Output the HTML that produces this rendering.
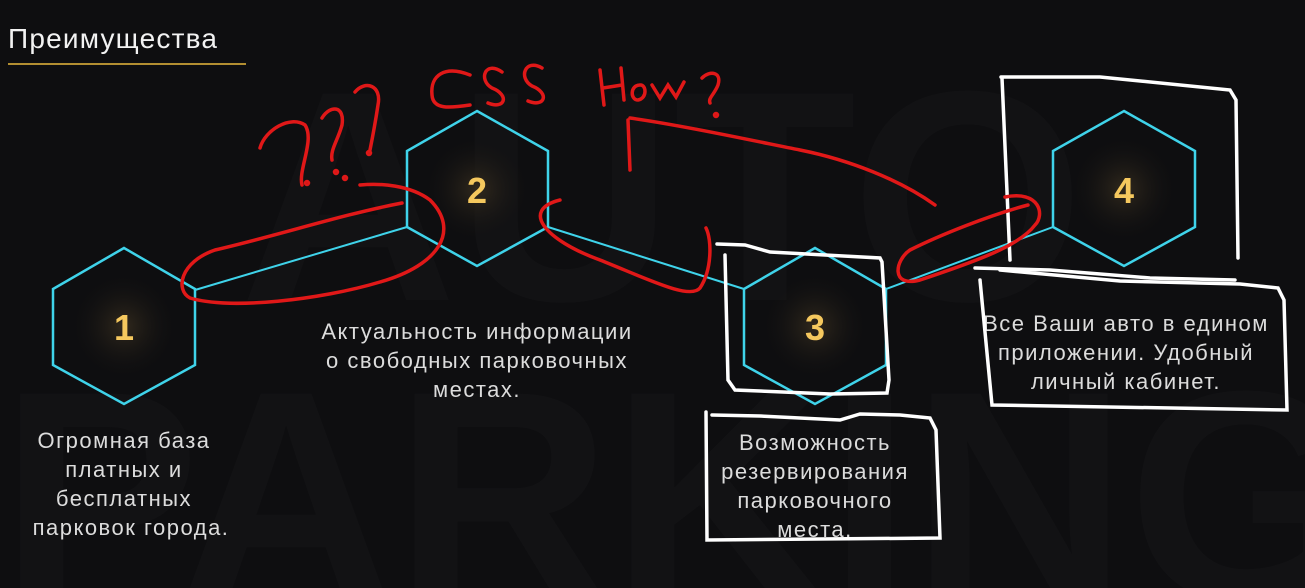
<!DOCTYPE html>
<html><head><meta charset="utf-8"><style>
html,body{margin:0;padding:0;background:#0e0e10;overflow:hidden;width:1305px;height:588px;}
body{position:relative;font-family:"Liberation Sans","Noto Sans CJK SC",sans-serif;}
svg{position:absolute;left:0;top:0;display:block;}
</style></head><body>
<svg width="1305" height="588" viewBox="0 0 1305 588" xmlns="http://www.w3.org/2000/svg">
<defs>
<radialGradient id="g"><stop offset="0" stop-color="#3a3020" stop-opacity="0.8"/><stop offset="1" stop-color="#0e0e10" stop-opacity="0"/></radialGradient>
</defs>
<rect width="1305" height="588" fill="#0e0e10"/>
<g fill="#121214" font-family="Liberation Sans,sans-serif" font-weight="bold">
<text x="240" y="300" font-size="300">AUTO</text>
<text x="0" y="600" font-size="300">PARKING</text>
</g>
<text x="8" y="48" fill="#f2f2f2" font-size="28" letter-spacing="1.2">Преимущества</text>
<line x1="8" y1="64" x2="246" y2="64" stroke="#e8b93c" stroke-width="1.5"/>
<g stroke="#3fd3ea" stroke-width="2" fill="none">
<line x1="195" y1="290" x2="407" y2="227"/>
<line x1="548" y1="227" x2="744" y2="289"/>
<line x1="886" y1="289" x2="1053" y2="227"/>
</g>
<g>
<circle cx="124" cy="326" r="55" fill="url(#g)"/>
<circle cx="477" cy="189" r="55" fill="url(#g)"/>
<circle cx="815" cy="326" r="55" fill="url(#g)"/>
<circle cx="1124" cy="189" r="55" fill="url(#g)"/>
</g>
<g stroke="#3fd3ea" stroke-width="2.5" fill="none">
<polygon points="124,248 195,289 195,365 124,404 53,365 53,289"/>
<polygon points="477,111 548,151 548,227 477,266 407,227 407,151"/>
<polygon points="815,248 886,289 886,365 815,404 744,365 744,289"/>
<polygon points="1124,111 1195,151 1195,227 1124,266 1053,227 1053,151"/>
</g>
<g fill="#f5c85e" font-size="36" font-weight="bold" text-anchor="middle">
<text x="124" y="340">1</text><text x="477" y="203">2</text><text x="815" y="340">3</text><text x="1124" y="203">4</text>
</g>
<g fill="#dcdcdc" font-size="22" letter-spacing="1.5" text-anchor="middle">
<text x="124" y="448">Огромная база</text><text x="124" y="477">платных и</text><text x="124" y="506">бесплатных</text><text x="131" y="535">парковок города.</text>
<text x="477" y="339">Актуальность информации</text><text x="477" y="368">о  свободных парковочных</text><text x="477" y="397">местах.</text>
<text x="815" y="450">Возможность</text><text x="815" y="479">резервирования</text><text x="815" y="508">парковочного</text><text x="815" y="537">места.</text>
<text x="1126" y="331">Все Ваши авто в едином</text><text x="1126" y="360">приложении. Удобный</text><text x="1126" y="389">личный кабинет.</text>
</g>
<g stroke="#ffffff" stroke-width="3.5" fill="none" stroke-linecap="round">
<path d="M717,244 L745,245 L770,252 L880,258 L882,262 L889,380 L887,393 L830,394 L735,390 L728,380 L725,255"/>
<path d="M706,412 L707,540 L940,538 L936,430 L930,418 L900,415 L860,414 L840,420 L760,416 L712,415"/>
<path d="M1001,77 L1100,77 L1230,90 L1236,100 L1238,258"/>
<path d="M1002,78 L1010,260"/>
<path d="M975,268 L1050,270 L1150,278 L1235,280"/>
<path d="M980,280 L992,405 L1287,410 L1284,300 L1278,288 L1240,284 L1120,281 L1000,270"/>
</g>
<g stroke="#e01818" stroke-width="3.5" fill="none" stroke-linecap="round">
<path d="M402,203 C340,215 280,235 215,250 C180,262 175,290 190,298 C230,310 320,300 380,282 C440,265 460,230 430,200 C410,185 380,183 360,185"/>
<path d="M560,200 C520,210 545,240 600,260 C650,280 690,300 700,288 C712,270 712,240 706,228"/>
<path d="M1005,197 C1040,190 1045,215 1035,225 C1020,245 980,260 920,280 C890,288 895,260 910,250 C940,235 990,215 1028,205"/>
<path d="M628,120 L630,170 M630,118 C680,125 750,140 800,150 C850,160 900,180 935,205"/>
<path d="M260,148 C265,130 290,115 305,125 C315,140 298,170 302,185 M322,118 C330,105 345,105 342,125 C338,140 330,150 332,160 M355,92 C365,80 382,85 378,105 C375,125 372,140 370,150"/>
<circle cx="307" cy="183" r="1.5"/><circle cx="336" cy="172" r="1.5"/><circle cx="345" cy="178" r="1.5"/><circle cx="369" cy="153" r="1.5"/>
<path d="M470,75 C445,65 430,75 432,95 C433,110 450,108 470,105"/>
<path d="M502,72 C485,60 478,80 492,88 C510,95 505,110 488,103"/>
<path d="M542,68 C525,58 518,78 532,86 C550,93 545,108 528,101"/>
<path d="M600,70 L604,105 M603,88 L622,85 M621,68 L624,100 M640,85 C630,85 630,100 638,100 C648,98 646,84 640,85 M652,85 L660,98 L668,85 L676,97 L684,82 M702,78 C710,70 722,72 718,85 C714,95 708,98 710,103"/>
<circle cx="716" cy="115" r="1.5"/>
</g>
</svg>
</body></html>
